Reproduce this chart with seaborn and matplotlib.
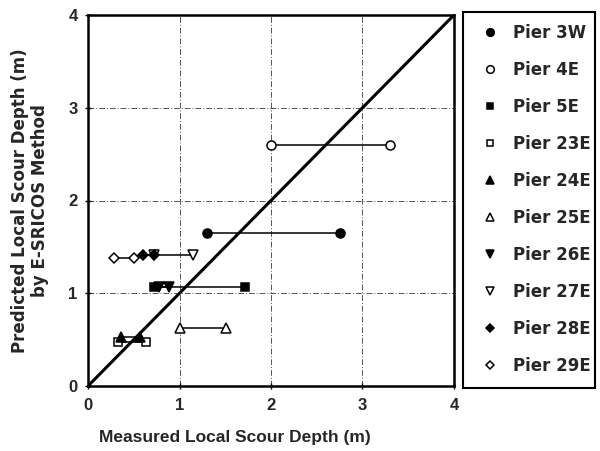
import matplotlib
matplotlib.use("Agg")
import matplotlib.pyplot as plt
from matplotlib.lines import Line2D
from matplotlib.patches import Rectangle
import seaborn as sns
import pandas as pd

sns.set_theme(style="white")
plt.rcParams["font.family"] = ["Liberation Sans", "DejaVu Sans"]
plt.rcParams["font.weight"] = "bold"

# Each pier: measured depths (two estimates) at one predicted depth
piers = ["Pier 3W", "Pier 4E", "Pier 5E", "Pier 23E", "Pier 24E",
         "Pier 25E", "Pier 26E", "Pier 27E", "Pier 28E", "Pier 29E"]
measured_low = [1.30, 2.00, 0.72, 0.33, 0.36, 1.00, 0.78, 0.72, 0.60, 0.28]
measured_high = [2.75, 3.30, 1.72, 0.63, 0.57, 1.51, 0.88, 1.15, 0.72, 0.50]
predicted = [1.65, 2.60, 1.07, 0.47, 0.53, 0.62, 1.07, 1.41, 1.41, 1.38]

markers = ["o", "o", "s", "s", "^", "^", "v", "v", "D", "D"]
filled = [True, False, True, False, True, False, True, False, True, False]
marker_sizes = [6.5, 6.5, 6, 6, 6.5, 6.5, 6.5, 6.5, 5.5, 5.5]

rows = []
for name, lo, hi, p in zip(piers, measured_low, measured_high, predicted):
    rows.append({"pier": name, "measured": lo, "predicted": p})
    rows.append({"pier": name, "measured": hi, "predicted": p})
df = pd.DataFrame(rows)

fig = plt.figure(figsize=(6.0, 4.51), dpi=100)
ax = fig.add_axes([88 / 600, 1 - 386 / 451, 366 / 600, 371 / 451])

for name, m, f, ms in zip(piers, markers, filled, marker_sizes):
    sub = df[df["pier"] == name]
    sns.lineplot(data=sub, x="measured", y="predicted", ax=ax,
                 estimator=None, sort=False, color="black", linewidth=1.1,
                 marker=m, markersize=ms, markeredgecolor="black",
                 markeredgewidth=1.1,
                 markerfacecolor="black" if f else "white", zorder=3)

# 1:1 line
sns.lineplot(x=[0, 4], y=[0, 4], ax=ax, color="black", linewidth=2.2,
             zorder=4)

ax.set_xlim(0, 4)
ax.set_ylim(0, 4)
ax.set_xticks([0, 1, 2, 3, 4])
ax.set_yticks([0, 1, 2, 3, 4])
ax.grid(True, color="#555555", linestyle=(0, (6, 2, 1, 2)), linewidth=0.7)
for s in ax.spines.values():
    s.set_color("black")
    s.set_linewidth(1.8)
ax.tick_params(axis="both", direction="inout", length=5, width=1.0,
               color="black", labelsize=12, bottom=True, left=True)
ax.tick_params(axis="x", pad=6)
ax.tick_params(axis="y", pad=5)
for lab in ax.get_xticklabels() + ax.get_yticklabels():
    lab.set_fontweight("bold")

ax.set_xlabel("Measured Local Scour Depth (m)", fontsize=12.5,
              fontweight="bold")
ax.xaxis.set_label_coords(0.40, -0.118)
ax.set_ylabel("Predicted Local Scour Depth (m)\nby E-SRICOS Method",
              fontsize=12, fontweight="bold", labelpad=14,
              linespacing=1.1, family=["DejaVu Sans"])

handles = [Line2D([], [], linestyle="none", marker=m, markersize=ms - 1,
                  markeredgecolor="black", markeredgewidth=1.1,
                  markerfacecolor="black" if f else "white")
           for m, f, ms in zip(markers, filled, marker_sizes)]
leg = fig.legend(handles, piers, loc="upper left",
                 bbox_to_anchor=(463 / 600, 1 - 15 / 451),
                 frameon=False,
                 prop={"size": 12, "weight": "bold", "family": "DejaVu Sans"},
                 labelspacing=1.14, handlelength=2.2, handletextpad=0.25,
                 borderpad=0.55, borderaxespad=0)

# legend frame
fig.add_artist(Rectangle((463 / 600, 1 - 388 / 451), 132 / 600, 376 / 451,
                         transform=fig.transFigure, fill=False,
                         edgecolor="black", linewidth=1.5))

fig.savefig("out.png", dpi=100, facecolor="white")
